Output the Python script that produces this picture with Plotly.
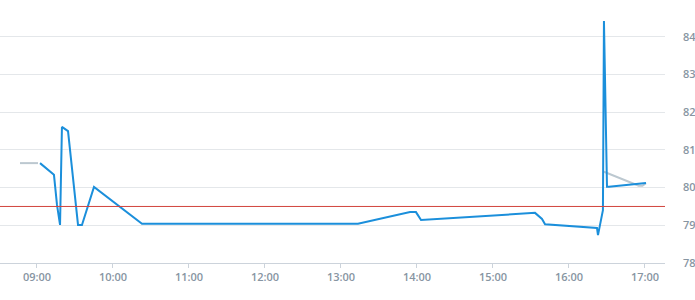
import plotly.graph_objects as go

day = "2024-01-15 "
blue_times = ["09:02:24", "09:13:24", "09:15:48", "09:18:12", "09:19:42", "09:24:30",
              "09:32:24", "09:35:30", "09:45:00", "10:22:54", "13:13:24", "13:54:30",
              "13:59:12", "14:03:12", "15:33:12", "15:38:42", "15:41:06", "16:22:06",
              "16:22:54", "16:26:48", "16:27:36", "16:30:00", "16:31:36", "16:57:36",
              "17:00:48"]
blue_values = [80.65, 80.34, 79.54, 79.01, 81.61, 81.50,
               79.01, 79.01, 80.02, 79.04, 79.04, 79.35,
               79.35, 79.14, 79.33, 79.17, 79.03, 78.93,
               78.74, 79.40, 84.42, 80.02, 80.02, 80.10,
               80.12]

gray_times = ["08:46:36", "09:00:48", None, "16:27:36", "16:55:00", "16:58:00", "17:00:48"]
gray_values = [80.65, 80.65, None, 80.42, 80.05, 80.05, 80.12]

threshold = 79.5
x_range = ["08:30:48", "17:15:48"]
y_range = [78, 84.5]

def ts(t):
    return None if t is None else day + t

fig = go.Figure()
fig.add_trace(go.Scatter(x=[ts(t) for t in gray_times], y=gray_values, mode="lines",
                         line=dict(color="#bcc8d0", width=2), connectgaps=False,
                         hoverinfo="skip", showlegend=False))
fig.add_trace(go.Scatter(x=[ts(t) for t in blue_times], y=blue_values, mode="lines",
                         line=dict(color="#1b8fdb", width=2), showlegend=False))
fig.add_hline(y=threshold, line=dict(color="#d2433c", width=1))

tickvals = [day + f"{h:02d}:00:00" for h in range(9, 18)]
ticktext = [f"{h:02d}:00" for h in range(9, 18)]

fig.update_layout(
    width=695, height=300,
    margin=dict(l=0, r=30, t=18, b=37),
    paper_bgcolor="white", plot_bgcolor="white",
    font=dict(family="Open Sans", size=11, color="#8795a2"),
    xaxis=dict(type="date", range=[ts(x_range[0]), ts(x_range[1])],
               tickvals=tickvals, ticktext=ticktext,
               showgrid=False, showline=True, linecolor="#ccd3db", linewidth=1,
               ticks="outside", ticklen=4, tickcolor="#ccd3db",
               tickfont=dict(family="Open Sans", size=11, color="#8795a2", weight=600),
               zeroline=False, fixedrange=True),
    yaxis=dict(range=y_range, side="right", tickvals=[78, 79, 80, 81, 82, 83, 84],
               showgrid=True, gridcolor="#e4e7ea", gridwidth=1,
               showline=False, zeroline=False, ticks="",
               ticklabelstandoff=17,
               tickfont=dict(family="Open Sans", size=11, color="#8795a2", weight=600)),
)

fig.write_html("out.html")
